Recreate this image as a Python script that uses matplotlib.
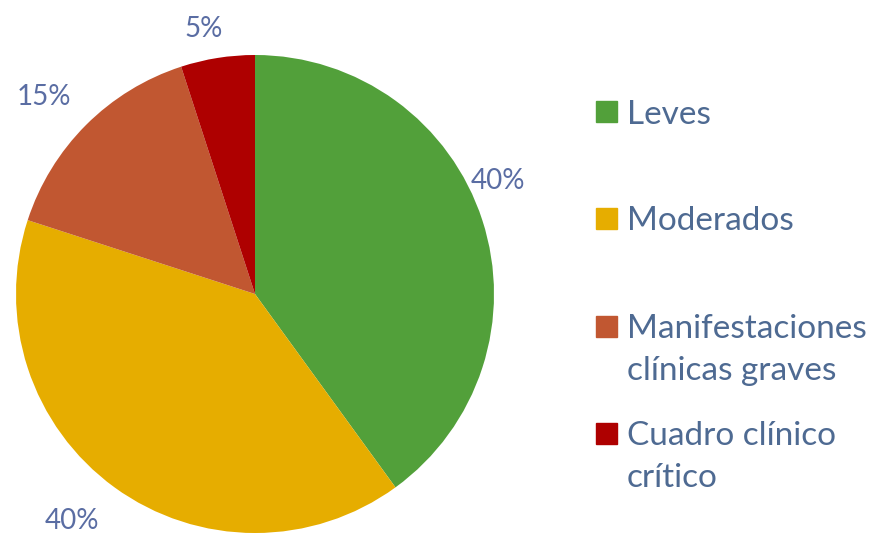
import matplotlib.pyplot as plt
from matplotlib.patches import Rectangle
import numpy as np

plt.rcParams['font.family'] = ['Lato', 'DejaVu Sans']

# data
categories = ['Leves', 'Moderados', 'Manifestaciones\nclínicas graves', 'Cuadro clínico\ncrítico']
shares = [40, 40, 15, 5]
colors = ['#52A03A', '#E6AD00', '#C15731', '#AE0000']

label_color = '#5A6DA3'
legend_color = '#4E6A92'

fig = plt.figure(figsize=(8.79, 5.33), dpi=100)
W, H = 879, 533
cx, cy, r = 255, 294, 239
ax = fig.add_axes([(cx - r) / W, (H - cy - r) / H, 2 * r / W, 2 * r / H])

wedges, _ = ax.pie(shares, colors=colors, startangle=90, counterclock=False,
                   radius=1.0, wedgeprops=dict(linewidth=0))
ax.set_xlim(-1, 1)
ax.set_ylim(-1, 1)
ax.set_aspect('equal')
ax.axis('off')

# percentage labels outside the wedges (angle nudge in deg, radius)
label_tweak = [(7, 1.12), (-3, 1.22), (2, 1.21), (2, 1.13)]
for w, v, (da, rr) in zip(wedges, shares, label_tweak):
    mid = np.deg2rad((w.theta1 + w.theta2) / 2 + da)
    ax.text(rr * np.cos(mid), rr * np.sin(mid), f'{v}%', ha='center', va='center',
            fontsize=20, color=label_color, clip_on=False)

# legend drawn manually
legend_y = [112, 218, 326, 433]
for cat, col, y in zip(categories, colors, legend_y):
    fig.patches.append(Rectangle((596 / W, 1 - (y + 10.5) / H), 21 / W, 21 / H,
                                 transform=fig.transFigure, color=col))
    fig.text(627 / W, 1 - (y - 12) / H, cat, ha='left', va='top', fontsize=24,
             color=legend_color, linespacing=1.5)

fig.savefig('out.png', dpi=100)
